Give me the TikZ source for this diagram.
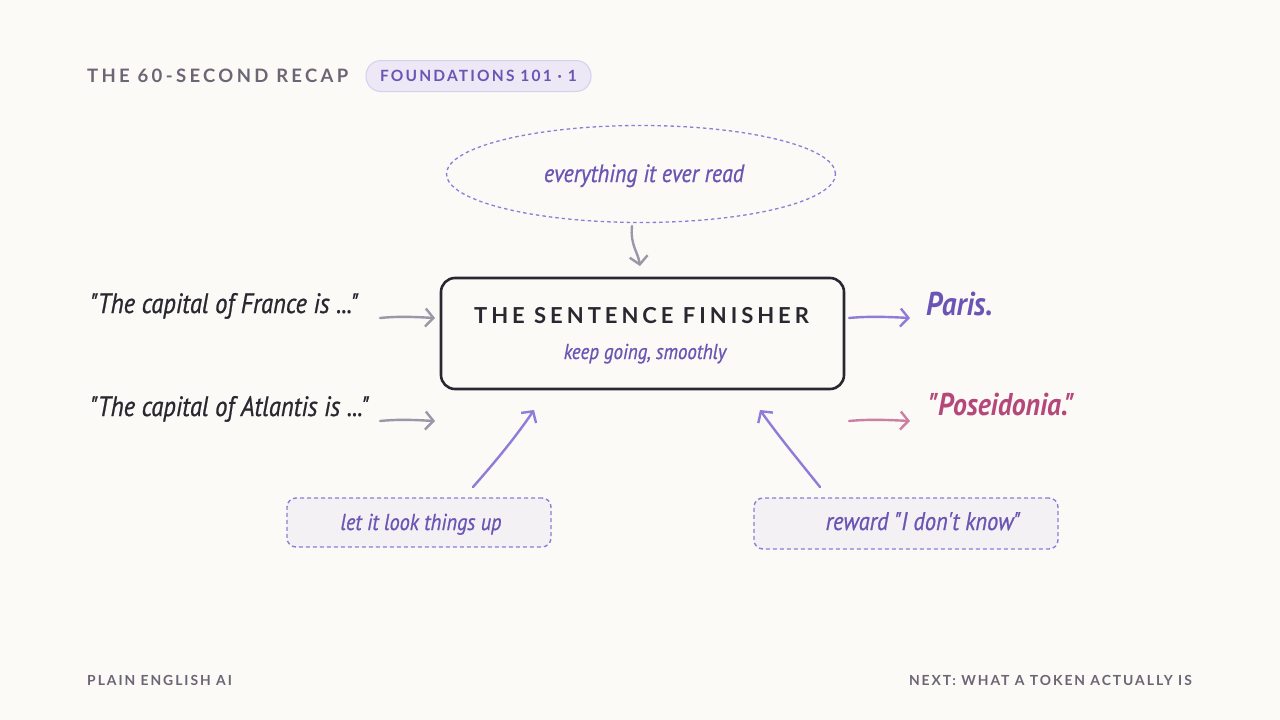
\documentclass[tikz,border=0pt]{standalone}
\usepackage{fontspec}
\usetikzlibrary{arrows.meta,shapes.geometric}
\setmainfont{Lato}
\newfontfamily\hdr[LetterSpace=18]{Lato}
\newfontfamily\ftr[LetterSpace=14]{Lato}
\newfontfamily\hand[FakeStretch=0.88,FakeBold=0.8]{PT Sans}
\newfontfamily\handb[FakeStretch=0.88]{PT Sans}
\definecolor{bg}{HTML}{FBFAF6}
\definecolor{ink}{HTML}{2A2730}
\definecolor{hgray}{HTML}{6B6575}
\definecolor{purp}{HTML}{6A55B5}
\definecolor{lpurp}{HTML}{8E7CD8}
\definecolor{agray}{HTML}{9C97A8}
\definecolor{pink}{HTML}{B5487A}
\definecolor{lpink}{HTML}{CC7FA2}
\definecolor{pillfill}{HTML}{ECE8F5}
\definecolor{pilldraw}{HTML}{D6CFEE}
\definecolor{notefill}{HTML}{F3F1F4}
\tikzset{
  arr/.style={line width=2.4pt, line cap=round, -{Straight Barb[length=8pt,width=18pt,line width=2.4pt]}},
  handtxt/.style={inner sep=0pt},
  note/.style={draw=lpurp, dashed, dash pattern=on 4pt off 3pt, line width=1.4pt, fill=notefill, rounded corners=9pt, inner sep=0pt},
}
\begin{document}
\begin{tikzpicture}[x=1pt,y=-1pt]
\useasboundingbox (0,0) rectangle (1280,720);
\fill[bg] (0,0) rectangle (1280,720);
% header
\node[anchor=base west, inner sep=0pt, text=hgray, font=\hdr\bfseries\fontsize{18.5}{21}\selectfont] (title) at (87,82) {THE 60-SECOND RECAP};
\node[draw=pilldraw, fill=pillfill, line width=1pt, rounded corners=15pt, minimum width=225pt, minimum height=31pt, inner sep=0pt] (pill) at (478.5,76) {};
\node[anchor=base, inner sep=0pt, text=purp, font=\ftr\bfseries\fontsize{15.5}{18}\selectfont] (pilltxt) at (478.5,81.5) {FOUNDATIONS 101 · 1};
% ellipse
\node[ellipse, draw=lpurp, dashed, dash pattern=on 3.5pt off 3pt, line width=1.3pt, minimum width=389pt, minimum height=97pt, inner sep=0pt] (ell) at (641,174) {};
\node[handtxt, anchor=base, text=purp, font=\hand\itshape\fontsize{25}{28}\selectfont] (elltxt) at (644,182) {everything it ever read};
% main box
\node[draw=ink, line width=2.6pt, rounded corners=14pt, minimum width=403pt, minimum height=111pt, inner sep=0pt] (box) at (642.5,333.5) {};
\node[anchor=base, inner sep=0pt, text=ink, font=\hdr\bfseries\fontsize{22}{25}\selectfont] (boxtitle) at (641.5,323) {THE SENTENCE FINISHER};
\node[handtxt, anchor=base, text=purp, font=\hand\itshape\fontsize{21.5}{24}\selectfont] (boxsub) at (645,359) {keep going, smoothly};
\coordinate (top) at (640,266);
\coordinate (ellbot) at (632,226);
\draw[arr, draw=agray] (ellbot) .. controls (630,245) and (638,252) .. (top);
% inputs
\node[handtxt, anchor=base west, text=ink, font=\hand\itshape\fontsize{28}{32}\selectfont] (france) at (90,313) {"The capital of France is ..."};
\node[handtxt, anchor=base west, text=ink, font=\hand\itshape\fontsize{28}{32}\selectfont] (atl) at (90,416) {"The capital of Atlantis is ..."};
\coordinate (f1) at (380,318); \coordinate (f2) at (435,318);
\coordinate (a1) at (380,421); \coordinate (a2) at (435,421);
\draw[arr, draw=agray] (f1) .. controls (400,316) and (415,317) .. (f2);
\draw[arr, draw=agray] (a1) .. controls (400,419) and (415,420) .. (a2);
% outputs
\coordinate (p1) at (849,318); \coordinate (p2) at (910,318);
\coordinate (q1) at (849,421); \coordinate (q2) at (910,421);
\draw[arr, draw=lpurp] (p1) .. controls (870,316) and (890,317) .. (p2);
\draw[arr, draw=lpink] (q1) .. controls (870,419) and (890,420) .. (q2);
\node[handtxt, anchor=base west, text=purp, font=\handb\itshape\bfseries\fontsize{33}{37}\selectfont] (paris) at (926,315) {Paris.};
\node[handtxt, anchor=base west, text=pink, font=\handb\itshape\bfseries\fontsize{31.5}{36}\selectfont] (pos) at (928,415) {"Poseidonia."};
% notes
\node[note, minimum width=264pt, minimum height=49pt] (n1) at (419,522.5) {};
\node[handtxt, anchor=base, text=purp, font=\hand\itshape\fontsize{23}{26}\selectfont] (n1t) at (421,530) {let it look things up};
\node[note, minimum width=304pt, minimum height=51pt] (n2) at (906,523.5) {};
\node[handtxt, anchor=base, text=purp, font=\hand\itshape\fontsize{25.5}{28}\selectfont] (n2t) at (923,530) {reward "I don't know"};
\coordinate (l1) at (473,487); \coordinate (l2) at (534,410);
\coordinate (r1) at (820,487); \coordinate (r2) at (760,410);
\draw[arr, draw=lpurp] (l1) .. controls (495,462) and (515,438) .. (l2);
\draw[arr, draw=lpurp] (r1) .. controls (800,462) and (780,438) .. (r2);
% footer
\node[anchor=base west, inner sep=0pt, text=hgray, font=\ftr\bfseries\fontsize{13.9}{16}\selectfont] (foot1) at (87,685) {PLAIN ENGLISH AI};
\node[anchor=base east, inner sep=0pt, text=hgray, font=\ftr\bfseries\fontsize{13.9}{16}\selectfont] (foot2) at (1192,685) {NEXT: WHAT A TOKEN ACTUALLY IS};
\end{tikzpicture}
\end{document}
